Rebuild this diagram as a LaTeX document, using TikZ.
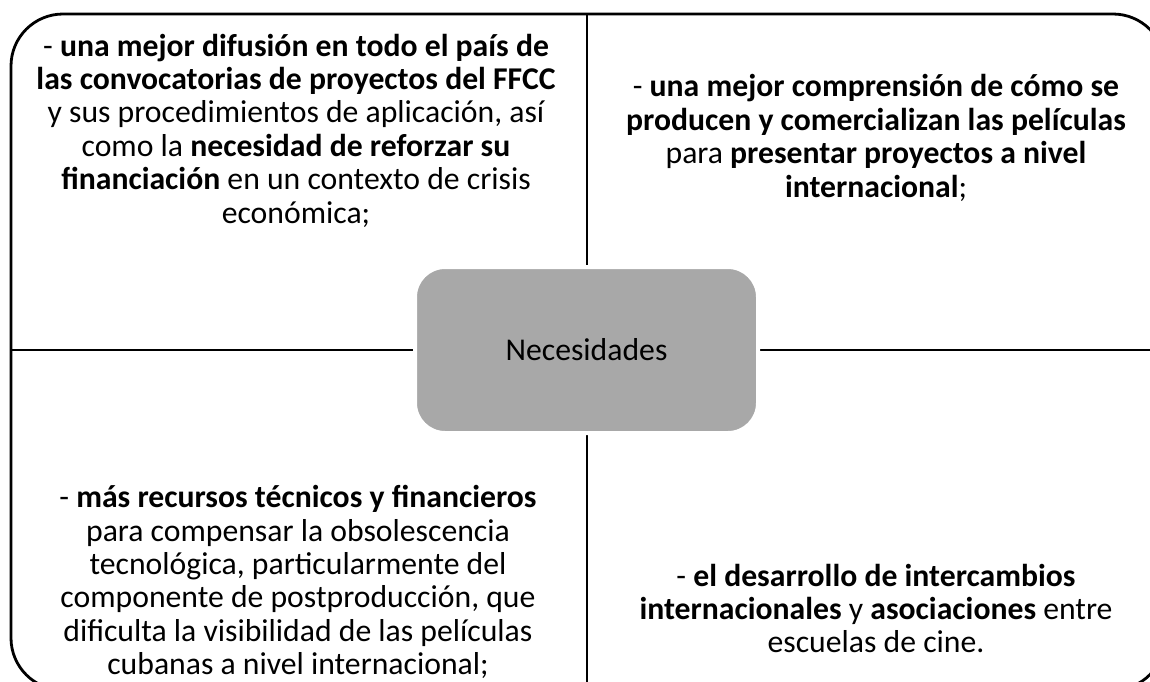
\documentclass[tikz,border=0pt]{standalone}
\usepackage{fontspec}
\setmainfont{Carlito}
\begin{document}
\begin{tikzpicture}[x=1pt,y=-1pt,
  frame/.style={line width=2.8pt,black},
  quadtext/.style={align=center,inner sep=0pt,font=\fontsize{31.7}{33.4}\selectfont},
  hub/.style={fill={rgb,255:red,168;green,168;blue,168},draw=white,line width=4pt,rounded corners=30pt,
    minimum width=343pt,minimum height=166pt,inner sep=0pt,font=\fontsize{31.7}{33.4}\selectfont}]
\useasboundingbox (0,0) rectangle (1150,681);
\clip (0,0) rectangle (1150,681);
\fill[white] (0,0) rectangle (1150,681);
\draw[frame,rounded corners=52pt] (11,14) rectangle (1165,690);
\coordinate (vt) at (587,14);
\coordinate (vb) at (587,690);
\coordinate (hl) at (11,350);
\coordinate (hr) at (1165,350);
\draw[frame] (vt) -- (vb);
\draw[frame] (hl) -- (hr);
\node[hub] (center) at (586.5,350) {Necesidades};
\node[quadtext] (tl) at (296,130.5) {- \textbf{una mejor difusión en todo el país de}\\
\textbf{las convocatorias de proyectos del FFCC}\\
y sus procedimientos de aplicación, así\\
como la \textbf{necesidad de reforzar su}\\
\textbf{financiación} en un contexto de crisis\\
económica;};
\node[quadtext] (tr) at (876,138) {- \textbf{una mejor comprensión de cómo se}\\
\textbf{producen y comercializan las películas}\\
para \textbf{presentar proyectos a nivel}\\
\textbf{internacional};};
\node[quadtext] (bl) at (298,582) {- \textbf{más recursos técnicos y financieros}\\
para compensar la obsolescencia\\
tecnológica, particularmente del\\
componente de postproducción, que\\
dificulta la visibilidad de las películas\\
cubanas a nivel internacional;};
\node[quadtext] (br) at (876,608.5) {- \textbf{el desarrollo de intercambios}\\
\textbf{internacionales} y \textbf{asociaciones} entre\\
escuelas de cine.};
\end{tikzpicture}
\end{document}
